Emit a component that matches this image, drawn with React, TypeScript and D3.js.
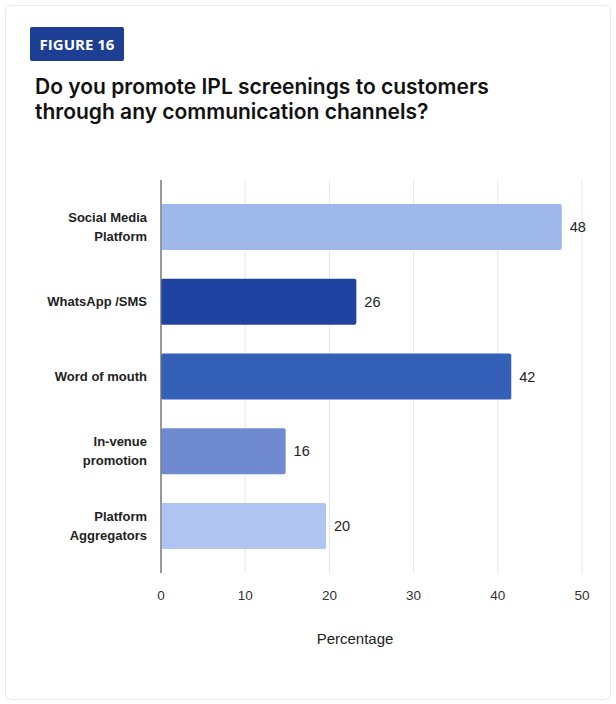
import React from "react";
import * as d3 from "d3";

const categories = ["Social Media Platform", "WhatsApp /SMS", "Word of mouth", "In-venue promotion", "Platform Aggregators"];
const categoryLines = [["Social Media", "Platform"], ["WhatsApp /SMS"], ["Word of mouth"], ["In-venue", "promotion"], ["Platform", "Aggregators"]];
const barValues = [47.6, 23.2, 41.6, 14.8, 19.6];
const valueLabels = ["48", "26", "42", "16", "20"];
const barColors = ["#9fb8ea", "#1e43a0", "#3560b8", "#6f8ad0", "#afc4f0"];
const xTicks = [0, 10, 20, 30, 40, 50];
const badgeText = "FIGURE 16";
const titleLines = ["Do you promote IPL screenings to customers", "through any communication channels?"];
const xAxisTitle = "Percentage";

export default function App() {
  const W = 616, H = 704;
  const x = d3.scaleLinear().domain([0, 50]).range([161, 582]);
  const y = d3.scaleBand<string>().domain(categories).range([180, 573]).paddingInner(0.385).paddingOuter(0.32);
  const bw = y.bandwidth();
  const font = "'Liberation Sans', Arial, sans-serif";
  const badgeFont = "'Open Sans', sans-serif";
  const titleFont = "Inter, 'Open Sans', sans-serif";
  return (
    <svg width={W} height={H} style={{ position: "absolute", left: 0, top: 0, background: "#fff" }}>
      <rect x={5.5} y={5.5} width={605} height={694} rx={6} fill="#fff" stroke="#e9e9e9" />
      <rect x={30} y={27} width={94} height={34} rx={2} fill="#1c3f94" />
      <text x={77} y={49.5} textAnchor="middle" fill="#fff" fontFamily={badgeFont} fontWeight={700} fontSize={15}>{badgeText}</text>
      {titleLines.map((t, i) => (
        <text key={i} x={35} y={94 + i * 25} fill="#111" fontFamily={titleFont} fontWeight={600} fontSize={21}>{t}</text>
      ))}
      {xTicks.map((t) => (
        <line key={t} x1={x(t)} x2={x(t)} y1={180} y2={573} stroke={t === 0 ? "#777" : "#e6e6e6"} strokeWidth={1} />
      ))}
      {categories.map((c, i) => (
        <rect key={c} x={x(0)} y={y(c)!} width={x(barValues[i]) - x(0)} height={bw} rx={2} fill={barColors[i]} />
      ))}
      <line x1={x(0)} x2={x(0)} y1={180} y2={573} stroke="#777" strokeWidth={1} />
      {categories.map((c, i) => {
        const lines = categoryLines[i];
        const cy = y(c)! + bw / 2;
        return (
          <text key={c} textAnchor="end" fontFamily={font} fontWeight={700} fontSize={13} fill="#222">
            {lines.map((l, j) => (
              <tspan key={j} x={147} y={cy + 4.5 + (j - (lines.length - 1) / 2) * 19}>{l}</tspan>
            ))}
          </text>
        );
      })}
      {categories.map((c, i) => (
        <text key={c} x={x(barValues[i]) + 8} y={y(c)! + bw / 2 + 5} fontFamily={font} fontSize={14.5} fill="#222">{valueLabels[i]}</text>
      ))}
      {xTicks.map((t) => (
        <text key={t} x={x(t)} y={600} textAnchor="middle" fontFamily={font} fontSize={13.5} fill="#333">{t}</text>
      ))}
      <text x={355} y={644} textAnchor="middle" fontFamily={font} fontSize={15} fill="#222">{xAxisTitle}</text>
    </svg>
  );
}
